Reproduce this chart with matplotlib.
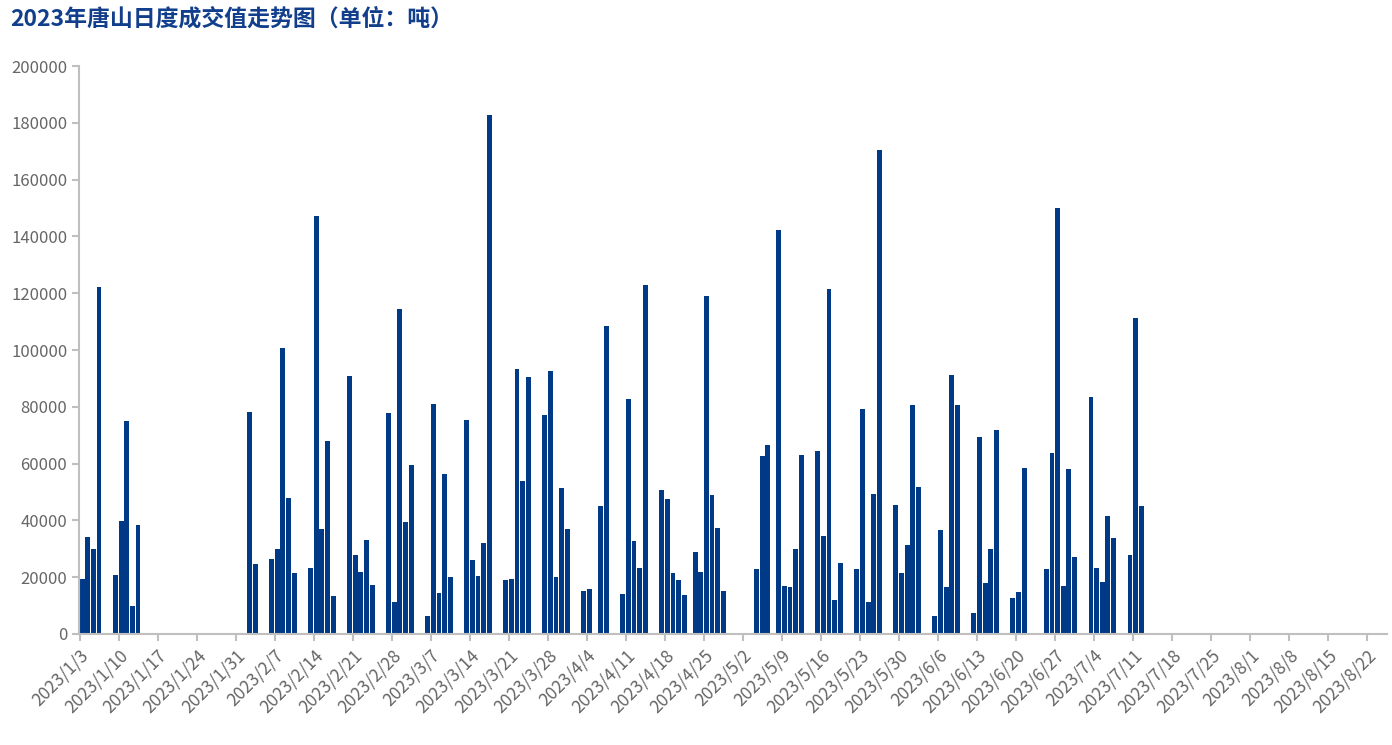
import pandas as pd
import matplotlib
matplotlib.use("Agg")
from matplotlib import pyplot as plt

plt.rcParams['font.family'] = ['Noto Sans CJK SC', 'DejaVu Sans']

dates = ['1/3', '1/4', '1/5', '1/6', '1/9', '1/10', '1/11', '1/12', '1/13',
         '2/2', '2/3', '2/6', '2/7', '2/8', '2/9', '2/10', '2/13', '2/14', '2/15', '2/16', '2/17',
         '2/20', '2/21', '2/22', '2/23', '2/24', '2/27', '2/28', '3/1', '3/2', '3/3',
         '3/6', '3/7', '3/8', '3/9', '3/10', '3/13', '3/14', '3/15', '3/16', '3/17',
         '3/20', '3/21', '3/22', '3/23', '3/24', '3/27', '3/28', '3/29', '3/30', '3/31',
         '4/3', '4/4', '4/6', '4/7', '4/10', '4/11', '4/12', '4/13', '4/14',
         '4/17', '4/18', '4/19', '4/20', '4/21', '4/23', '4/24', '4/25', '4/26', '4/27', '4/28',
         '5/4', '5/5', '5/6', '5/8', '5/9', '5/10', '5/11', '5/12',
         '5/15', '5/16', '5/17', '5/18', '5/19', '5/22', '5/23', '5/24', '5/25', '5/26',
         '5/29', '5/30', '5/31', '6/1', '6/2', '6/5', '6/6', '6/7', '6/8', '6/9',
         '6/12', '6/13', '6/14', '6/15', '6/16', '6/19', '6/20', '6/21',
         '6/25', '6/26', '6/27', '6/28', '6/29', '6/30',
         '7/3', '7/4', '7/5', '7/6', '7/7', '7/10', '7/11', '7/12']
values = [19200, 34300, 30000, 122200, 20900, 39800, 75000, 9700, 38500,
          78000, 24700, 26500, 30000, 100800, 47800, 21500, 23300, 147200, 37000, 67800, 13300,
          91000, 27800, 22000, 33000, 17200, 77800, 11300, 114500, 39600, 59400,
          6300, 80900, 14600, 56500, 20200, 75500, 26000, 20500, 32000, 182800,
          18900, 19400, 93300, 53900, 90400, 77000, 92500, 20100, 51500, 37000,
          15100, 15800, 45100, 108500, 14200, 82600, 32900, 23200, 122800,
          50800, 47600, 21600, 18900, 13900, 29000, 21800, 119000, 48800, 37200, 15100,
          22900, 62800, 66400, 142200, 16800, 16500, 29800, 63100,
          64400, 34600, 121600, 12000, 25000, 23000, 79300, 11300, 49300, 170300,
          45300, 21600, 31500, 80500, 51600, 6300, 36500, 16600, 91200, 80500,
          7400, 69400, 18000, 30000, 71800, 12800, 14800, 58500,
          23000, 63800, 150000, 17000, 58000, 27200,
          83500, 23400, 18300, 41500, 33800, 27900, 111300, 45100]

start = pd.Timestamp('2023-01-03')
days = [(pd.Timestamp('2023/' + d) - start).days for d in dates]
tick_dates = pd.date_range('2023-01-03', '2023-08-22', freq='7D')
tick_pos = [(t - start).days for t in tick_dates]
tick_labels = [f"{t.year}/{t.month}/{t.day}" for t in tick_dates]

fig = plt.figure(figsize=(13.92, 7.45), dpi=100)
ax = fig.add_axes([0.0568, 0.149, 0.9396, 0.7624])

ax.bar([d + 0.04 for d in days], values, width=0.88, align='edge', color='#003A86')

ax.set_xlim(-0.1, 234.6)
ax.set_ylim(0, 200000)
ax.set_yticks(range(0, 200001, 20000))
ax.set_xticks(tick_pos)
ax.set_xticklabels(tick_labels, rotation=45, ha='right', rotation_mode='anchor')

for s in ['top', 'right']:
    ax.spines[s].set_visible(False)
for s in ['left', 'bottom']:
    ax.spines[s].set_color('#BFBFBF')
    ax.spines[s].set_linewidth(1.5)
ax.tick_params(axis='both', colors='#BFBFBF', length=5, width=1.5, labelcolor='#666666', labelsize=12)
ax.tick_params(axis='x', labelsize=12.5, pad=4)

fig.text(0.007, 0.975, '2023年唐山日度成交值走势图（单位：吨）', fontsize=16.5, fontweight='bold',
         color='#123F8C', ha='left', va='center')

fig.savefig('out.png', dpi=100)
